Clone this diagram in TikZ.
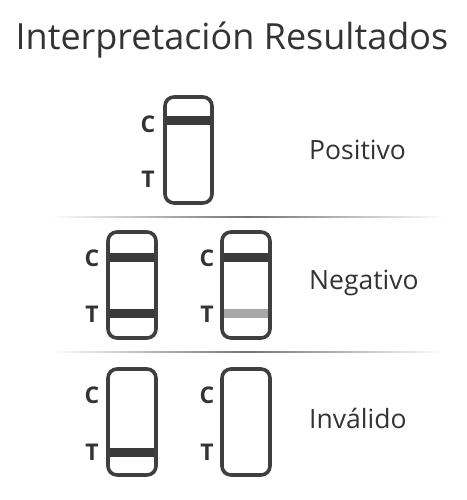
\documentclass[tikz,border=0pt]{standalone}
\usepackage{fontspec}
\setmainfont{Open Sans}
\definecolor{txt}{HTML}{333333}
\definecolor{strip}{HTML}{3F3F3F}
\definecolor{band}{HTML}{3A3A3A}
\definecolor{faint}{HTML}{A8A8A8}
\begin{document}
\begin{tikzpicture}[x=1pt,y=-1pt,
  stripbox/.style={draw=strip, line width=3.6pt, rounded corners=9pt},
  ctlabel/.style={font=\fontsize{23}{23}\selectfont\bfseries, text=txt, inner sep=0pt},
  reslabel/.style={font=\fontsize{26.5}{26.5}\selectfont, text=txt, anchor=west, inner sep=0pt},
  sep/.style={left color=white, right color=white, middle color=black!55}]
\useasboundingbox (0,0) rectangle (466,500);
\node[font=\fontsize{36}{36}\selectfont, text=txt, inner sep=0pt] (title) at (232,40) {Interpretación Resultados};
% separators
\shade[sep] (50,216.3) rectangle (445,217.8);
\shade[sep] (50,351.3) rectangle (445,352.8);
% Positivo
\fill[band] (165,116) rectangle (212,124.5);
\draw[stripbox] (165,97) rectangle (212,203);
\node[ctlabel] (pc) at (148,124) {C};
\node[ctlabel] (pt) at (148,179) {T};
\node[reslabel] (pos) at (309,150) {Positivo};
% Negativo
\fill[band] (108,253) rectangle (156,262);
\fill[band] (108,309) rectangle (156,318);
\draw[stripbox] (108,232) rectangle (156,338);
\node[ctlabel] (n1c) at (92,258) {C};
\node[ctlabel] (n1t) at (92,314) {T};
\fill[band] (222,253) rectangle (270,262);
\fill[faint] (222,309) rectangle (270,318);
\draw[stripbox] (222,232) rectangle (270,338);
\node[ctlabel] (n2c) at (207,258) {C};
\node[ctlabel] (n2t) at (207,314) {T};
\node[reslabel] (neg) at (309,283) {Negativo};
% Invalido
\fill[band] (108,448) rectangle (156,457);
\draw[stripbox] (108,369) rectangle (156,475);
\node[ctlabel] (i1c) at (92,395) {C};
\node[ctlabel] (i1t) at (92,452) {T};
\draw[stripbox] (222,369) rectangle (270,475);
\node[ctlabel] (i2c) at (207,395) {C};
\node[ctlabel] (i2t) at (207,452) {T};
\node[reslabel] (inv) at (309,418) {Inválido};
\end{tikzpicture}
\end{document}
